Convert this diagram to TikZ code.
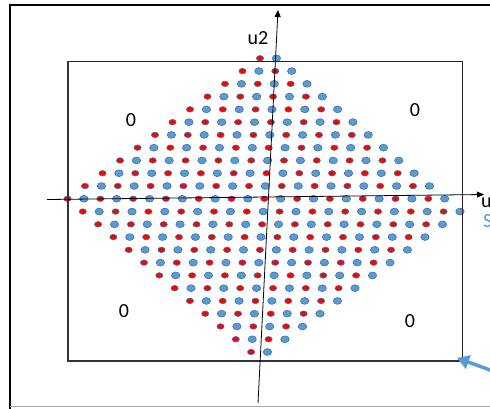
\documentclass[tikz,border=0pt]{standalone}
\usepackage{fontspec}
\setmainfont{Carlito}
\usetikzlibrary{arrows.meta, shapes.geometric}
\definecolor{ptblue}{HTML}{5B9BD5}
\definecolor{ptedge}{HTML}{41719C}
\definecolor{ptred}{HTML}{FF0000}

\begin{document}
\begin{tikzpicture}[
  x=1pt, y=-1pt,
  reddot/.style={ellipse, fill=ptred, draw=ptedge, line width=0.6pt,
    minimum width=7.2pt, minimum height=5.5pt, inner sep=0pt},
  bluedot/.style={ellipse, fill=ptblue, draw=ptedge, line width=0.6pt,
    minimum width=8.4pt, minimum height=6.8pt, inner sep=0pt},
  axisline/.style={-{Triangle[length=7pt, width=6pt]}, line width=0.8pt, black},
  zerolabel/.style={font=\fontsize{20}{20}\selectfont, inner sep=0pt},
  callout/.style={-{Triangle[length=12pt, width=14pt]}, line width=3.5pt, ptblue}
]
\useasboundingbox (0,0) rectangle (490,408);
\clip (0,0) rectangle (490,408);

% frame
\draw[line width=2pt] (10,410) -- (10,5) -- (495,5);
\draw[black!35, line width=1pt] (10,406) -- (495,406);

% lattice of points
\foreach \j in {0,...,23}{
  \ifnum\j<12
    \pgfmathtruncatemacro\cmin{-\j}\pgfmathtruncatemacro\cmax{\j+1}
  \else
    \pgfmathtruncatemacro\cmin{\j-22}\pgfmathtruncatemacro\cmax{25-\j}
  \fi
  \foreach \c in {\cmin,...,\cmax}{
    \pgfmathtruncatemacro\dotpar{mod(\c+\j+40,2)}
    \ifnum\dotpar=0 \def\dotkind{reddot}\else\def\dotkind{bluedot}\fi
    \node[\dotkind] (d-\j-\c) at ({260+16.4*\c-1.1*\j},{58.3+12.77*\j}) {};
  }
}

% inner box
\draw[line width=1pt, black!85] (68,61) rectangle (462,361);
\draw[line width=2pt, black!80] (68,61) -- (68,361) -- (462,361);

% axes
\coordinate (hl) at (47,199.5);
\coordinate (hr) at (484,194.5);
\coordinate (vb) at (258,403);
\coordinate (vt) at (278,10);
\draw[axisline] (hl) -- (hr);
\draw[axisline] (vb) -- (vt);

\node[zerolabel] (u2) at (258,38) {u2};
\node[zerolabel, anchor=west] (u1) at (481,203) {u};
\node[zerolabel, anchor=west, text=ptblue] (s) at (483,221) {S};

\node[zerolabel] (z-tl) at (131,120) {0};
\node[zerolabel] (z-tr) at (415,110) {0};
\node[zerolabel] (z-bl) at (124,311) {0};
\node[zerolabel] (z-br) at (410,321) {0};

% pointer to the box corner
\coordinate (ctail) at (515,379);
\coordinate (ctip) at (457,358);
\draw[callout] (ctail) -- (ctip);
\end{tikzpicture}
\end{document}
